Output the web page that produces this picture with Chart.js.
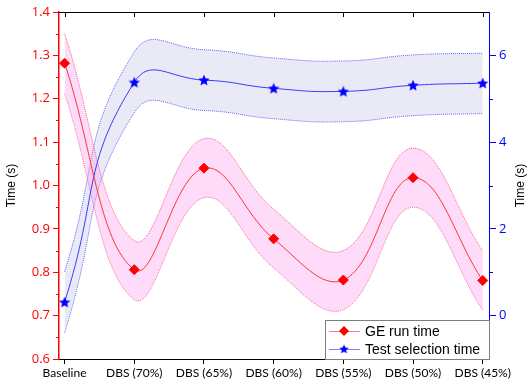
<!DOCTYPE html>
<html>
<head>
<meta charset="utf-8">
<script src="https://cdn.jsdelivr.net/npm/chart.js@4"></script>
<style>
  html, body { margin: 0; padding: 0; background: #fff; }
  #wrap { width: 532px; height: 386px; }
</style>
</head>
<body>
<div id="wrap"><canvas id="chart" width="532" height="386"></canvas></div>
<script>
// Categories along the bottom axis
const categories = ["Baseline", "DBS (70%)", "DBS (65%)", "DBS (60%)", "DBS (55%)", "DBS (50%)", "DBS (45%)"];
const seriesNames = ["GE run time", "Test selection time"];

// GE run time (left axis, s) with its band
const geRunTime = [1.282, 0.806, 1.040, 0.877, 0.782, 1.018, 0.781];
const geUpper   = [1.350, 0.873, 1.108, 0.945, 0.850, 1.086, 0.849];
const geLower   = [1.212, 0.737, 0.972, 0.810, 0.714, 0.950, 0.713];

// Test selection time (right axis, s) with its band
const testTime  = [0.31, 5.38, 5.43, 5.24, 5.17, 5.31, 5.36];
const testUpper = [1.01, 6.08, 6.13, 5.94, 5.87, 6.01, 6.05];
const testLower = [-0.39, 4.68, 4.73, 4.54, 4.47, 4.61, 4.66];

// Axis ticks
const leftTicks = [0.6, 0.7, 0.8, 0.9, 1.0, 1.1, 1.2, 1.3, 1.4];
const leftMinor = [0.65, 0.75, 0.85, 0.95, 1.05, 1.15, 1.25, 1.35];
const rightTicks = [0, 2, 4, 6];
const rightMinor = [1, 3, 5];

const RED = "#ff0000";
const BLUE = "#0000ff";

function toPoints(arr) {
  return arr.map((v, i) => ({ x: i, y: v }));
}

// filled five point star used as the marker of the blue series
function makeStar(size, color) {
  const c = document.createElement("canvas");
  c.width = size;
  c.height = size;
  const g = c.getContext("2d");
  const cx = size / 2, cy = size / 2 + 0.5;
  const ro = size / 2, ri = ro * 0.45;
  g.beginPath();
  for (let k = 0; k < 10; k++) {
    const r = k % 2 === 0 ? ro : ri;
    const a = -Math.PI / 2 + k * Math.PI / 5;
    const px = cx + r * Math.cos(a), py = cy + r * Math.sin(a);
    if (k === 0) g.moveTo(px, py); else g.lineTo(px, py);
  }
  g.closePath();
  g.fillStyle = color;
  g.fill();
  return c;
}
const starImg = makeStar(12, BLUE);

// extra frame parts: top border, top ticks, minor ticks, right title, legend
const frameExtras = {
  id: "frameExtras",
  afterDraw(chart) {
    const ctx = chart.ctx;
    const area = chart.chartArea;
    const xs = chart.scales.x, yl = chart.scales.y, yr = chart.scales.y2;
    ctx.save();

    // top border and inward ticks
    ctx.strokeStyle = "#000";
    ctx.lineWidth = 1;
    ctx.beginPath();
    ctx.moveTo(area.left, area.top + 0.5);
    ctx.lineTo(area.right, area.top + 0.5);
    categories.forEach((c, i) => {
      const px = Math.round(xs.getPixelForValue(i)) + 0.5;
      ctx.moveTo(px, area.top);
      ctx.lineTo(px, area.top + 5);
    });
    ctx.stroke();

    // minor ticks left
    ctx.strokeStyle = RED;
    ctx.beginPath();
    leftMinor.forEach(v => {
      const py = Math.round(yl.getPixelForValue(v)) + 0.5;
      ctx.moveTo(area.left, py);
      ctx.lineTo(area.left - 3, py);
    });
    ctx.stroke();

    // minor ticks right
    ctx.strokeStyle = BLUE;
    ctx.beginPath();
    rightMinor.forEach(v => {
      const py = Math.round(yr.getPixelForValue(v)) + 0.5;
      ctx.moveTo(area.right, py);
      ctx.lineTo(area.right + 4, py);
    });
    ctx.stroke();

    // right axis title, reads bottom to top like the left one
    ctx.translate(chart.width - 11, (area.top + area.bottom) / 2);
    ctx.rotate(-Math.PI / 2);
    ctx.fillStyle = "#000";
    ctx.font = "12px 'Liberation Sans', Arial, sans-serif";
    ctx.textAlign = "center";
    ctx.textBaseline = "middle";
    ctx.fillText("Time (s)", 0, 0);
    ctx.setTransform(1, 0, 0, 1, 0, 0);

    // legend box in the bottom right corner
    const w = 164, h = 39;
    const lx = area.right - w, ly = area.bottom - h;
    ctx.fillStyle = "#fff";
    ctx.fillRect(lx, ly, w, h);
    ctx.strokeStyle = "#7f7f7f";
    ctx.strokeRect(lx + 0.5, ly + 0.5, w, h);
    ctx.font = "14px 'Liberation Sans', Arial, sans-serif";
    ctx.textAlign = "left";
    ctx.textBaseline = "middle";
    const rows = [
      { name: seriesNames[0], line: "#ff8080", mark: "diamond" },
      { name: seriesNames[1], line: "#8080ff", mark: "star" }
    ];
    rows.forEach((r, k) => {
      const ry = ly + 11 + k * 18;
      ctx.strokeStyle = r.line;
      ctx.lineWidth = 1;
      ctx.beginPath();
      ctx.moveTo(lx + 4, Math.round(ry) + 0.5);
      ctx.lineTo(lx + 35, Math.round(ry) + 0.5);
      ctx.stroke();
      const mx = lx + 19;
      if (r.mark === "diamond") {
        ctx.fillStyle = RED;
        ctx.beginPath();
        ctx.moveTo(mx, ry - 5);
        ctx.lineTo(mx + 5, ry);
        ctx.lineTo(mx, ry + 5);
        ctx.lineTo(mx - 5, ry);
        ctx.closePath();
        ctx.fill();
      } else {
        ctx.drawImage(starImg, mx - 5, ry - 5, 10, 10);
      }
      ctx.fillStyle = "#000";
      ctx.fillText(r.name, lx + 40, ry + 1);
    });

    ctx.restore();
  }
};

const bandBase = {
  pointRadius: 0,
  borderWidth: 1,
  borderDash: [1, 1],
  tension: 0.4,
  order: 2
};

new Chart(document.getElementById("chart"), {
  type: "line",
  data: {
    datasets: [
      Object.assign({}, bandBase, {
        label: "GE upper",
        data: toPoints(geUpper),
        borderColor: "rgba(255,70,110,0.85)",
        backgroundColor: "rgba(250,160,240,0.38)",
        fill: "+1",
        yAxisID: "y"
      }),
      Object.assign({}, bandBase, {
        label: "GE lower",
        data: toPoints(geLower),
        borderColor: "rgba(255,70,110,0.85)",
        fill: false,
        yAxisID: "y"
      }),
      Object.assign({}, bandBase, {
        label: "Test upper",
        data: toPoints(testUpper),
        borderColor: "rgba(70,70,255,0.85)",
        backgroundColor: "rgba(150,150,215,0.2)",
        fill: "+1",
        tension: 0.5,
        yAxisID: "y2"
      }),
      Object.assign({}, bandBase, {
        label: "Test lower",
        data: toPoints(testLower),
        borderColor: "rgba(70,70,255,0.85)",
        fill: false,
        tension: 0.5,
        yAxisID: "y2"
      }),
      {
        label: seriesNames[0],
        data: toPoints(geRunTime),
        borderColor: "#ff3535",
        borderWidth: 1,
        backgroundColor: RED,
        pointStyle: "rectRot",
        pointRadius: 5,
        pointBorderColor: RED,
        pointBackgroundColor: RED,
        tension: 0.4,
        fill: false,
        yAxisID: "y",
        order: 1
      },
      {
        label: seriesNames[1],
        data: toPoints(testTime),
        borderColor: "#3a3aff",
        borderWidth: 1,
        backgroundColor: BLUE,
        pointStyle: starImg,
        pointRadius: 6,
        tension: 0.5,
        fill: false,
        yAxisID: "y2",
        order: 1
      }
    ]
  },
  options: {
    responsive: false,
    animation: false,
    devicePixelRatio: 1,
    layout: { padding: { top: 12, left: 0, right: 0, bottom: 0 } },
    scales: {
      x: {
        type: "linear",
        position: "bottom",
        min: -0.08,
        max: 6.09,
        afterBuildTicks: (scale) => {
          scale.ticks = categories.map((c, i) => ({ value: i }));
        },
        afterFit: (scale) => { scale.height = 27; },
        ticks: {
          callback: (v) => categories[v],
          color: "#000",
          font: { family: "Lato", size: 12 },
          padding: 2,
          maxRotation: 0,
          autoSkip: false
        },
        grid: { drawOnChartArea: false, color: "#000", tickLength: 5 },
        border: { color: "#000", width: 1 }
      },
      y: {
        position: "left",
        min: 0.6,
        max: 1.4,
        afterBuildTicks: (scale) => {
          scale.ticks = leftTicks.map(v => ({ value: v }));
        },
        afterFit: (scale) => { scale.width = 59; },
        ticks: {
          callback: (v) => v.toFixed(1),
          color: RED,
          font: { family: "Open Sans", size: 13 },
          padding: 3
        },
        grid: { drawOnChartArea: false, color: RED, tickLength: 6 },
        border: { color: RED, width: 1.5 },
        title: {
          display: true,
          text: "Time (s)",
          color: "#000",
          font: { family: "Liberation Sans", size: 12 },
          padding: { top: 4, bottom: 0 }
        }
      },
      y2: {
        position: "right",
        min: -1,
        max: 7,
        afterBuildTicks: (scale) => {
          scale.ticks = rightTicks.map(v => ({ value: v }));
        },
        afterFit: (scale) => { scale.width = 43; },
        ticks: {
          color: BLUE,
          font: { family: "Open Sans", size: 13 },
          padding: 3
        },
        grid: { drawOnChartArea: false, color: BLUE, tickLength: 7 },
        border: { color: BLUE, width: 1 }
      }
    },
    plugins: {
      legend: { display: false },
      tooltip: { enabled: false }
    }
  },
  plugins: [frameExtras]
});
</script>
</body>
</html>
